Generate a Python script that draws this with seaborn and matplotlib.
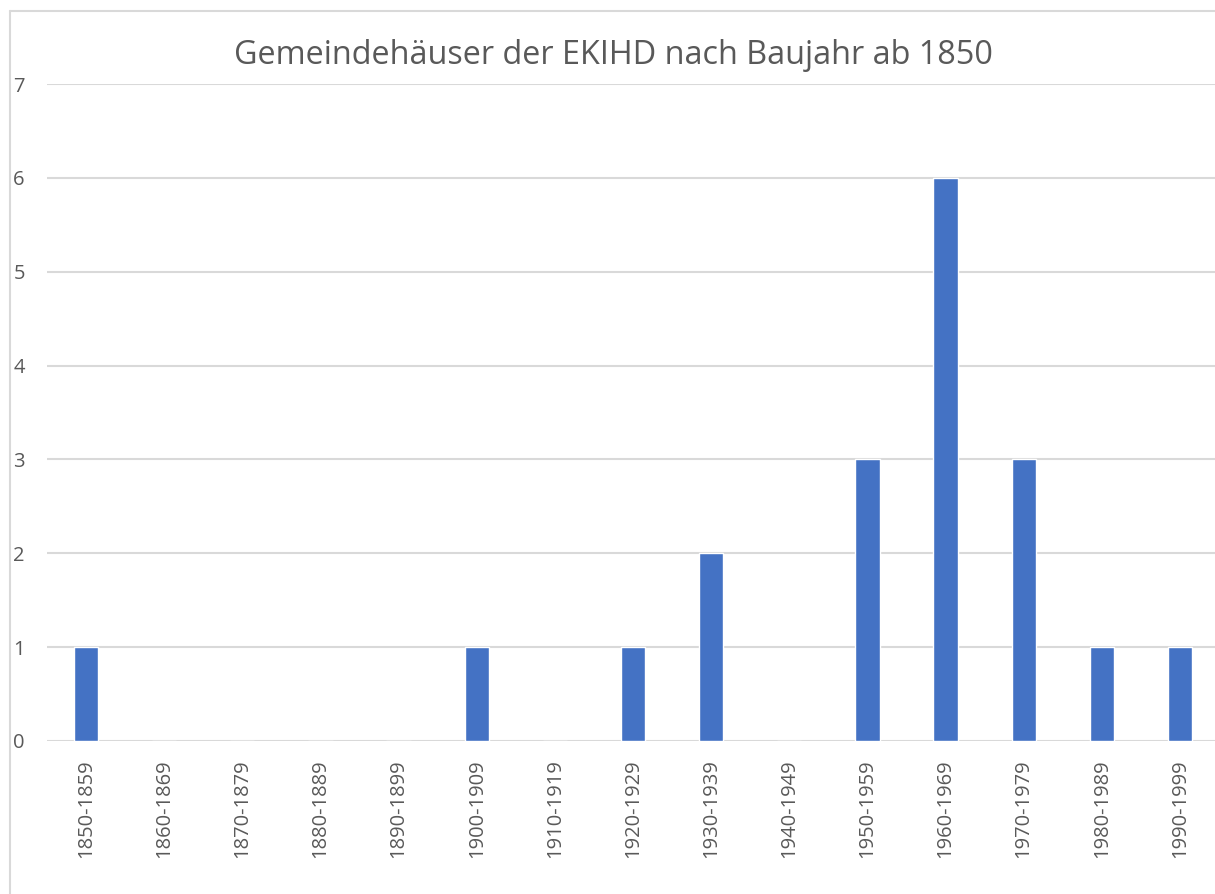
import matplotlib
matplotlib.use("Agg")
import matplotlib.pyplot as plt
import seaborn as sns
import pandas as pd
from matplotlib.lines import Line2D

# Data
decades = ["1850-1859", "1860-1869", "1870-1879", "1880-1889", "1890-1899",
           "1900-1909", "1910-1919", "1920-1929", "1930-1939", "1940-1949",
           "1950-1959", "1960-1969", "1970-1979", "1980-1989", "1990-1999"]
counts = [1, 0, 0, 0, 0, 1, 0, 1, 2, 0, 3, 6, 3, 1, 1]

df = pd.DataFrame({"decade": decades, "count": counts})

sns.set_theme(style="white")
plt.rcParams["font.family"] = ["Open Sans", "DejaVu Sans"]

fig = plt.figure(figsize=(12.15, 8.94), dpi=100)
ax = fig.add_axes([47 / 1215, 1 - 741 / 894, (1219 - 47) / 1215, (741 - 84) / 894])

sns.barplot(data=df, x="decade", y="count", color="#4472C4", width=0.31,
            saturation=1, ax=ax, zorder=3)

ax.set_ylim(0, 7)
ax.set_xlim(-0.5, len(decades) - 0.5)
ax.set_yticks(range(0, 8))
ax.yaxis.grid(True, color="#d9d9d9", linewidth=1.5, zorder=0)
ax.set_axisbelow(True)
for s in ax.spines.values():
    s.set_visible(False)
ax.set_xlabel("")
ax.set_ylabel("")
ax.tick_params(axis="x", labelrotation=90, labelsize=14.5, colors="#595959", length=0, pad=13)
ax.tick_params(axis="y", labelsize=14.5, colors="#595959", length=0, pad=16)

fig.text(613 / 1215, 1 - 55 / 894, "Gemeindehäuser der EKIHD nach Baujahr ab 1850",
         ha="center", va="center", fontsize=23.3, color="#595959")

# chart area border (only left and top edges visible in the crop)
x0, y0 = 9.5 / 1215, 1 - 10.5 / 894
fig.lines.append(Line2D([x0, x0], [0, y0], transform=fig.transFigure,
                        color="#d9d9d9", linewidth=1.5))
fig.lines.append(Line2D([x0, 1], [y0, y0], transform=fig.transFigure,
                        color="#d9d9d9", linewidth=1.5))

fig.savefig("out.png", dpi=100)
